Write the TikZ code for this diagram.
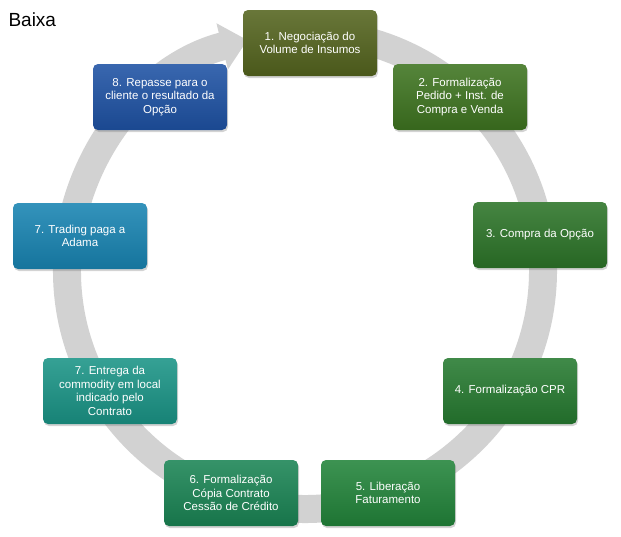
\documentclass[tikz,border=0pt]{standalone}
\usepackage{fontspec}
\setmainfont{Liberation Sans}
\usetikzlibrary{arrows.meta,shadows}

\definecolor{anelcinza}{RGB}{210,210,210}
\definecolor{cor1}{RGB}{84,100,30}
\definecolor{cor2}{RGB}{62,116,32}
\definecolor{cor3}{RGB}{44,116,40}
\definecolor{cor4}{RGB}{38,122,48}
\definecolor{cor5}{RGB}{34,132,58}
\definecolor{cor6}{RGB}{26,132,84}
\definecolor{cor7e}{RGB}{26,148,134}
\definecolor{cor7t}{RGB}{24,132,178}
\definecolor{cor8}{RGB}{30,82,164}

\begin{document}
\begin{tikzpicture}[x=1pt,y=1pt,
    etapa/.style={rectangle, rounded corners=5pt, minimum width=134pt, minimum height=66pt,
        top color=#1!88!white, bottom color=#1!88!black, text=white, align=center,
        font=\fontsize{11.5}{13.5}\selectfont,
        drop shadow={opacity=0.35, shadow xshift=1pt, shadow yshift=-2pt}}]
    \useasboundingbox (0,0) rectangle (621,-536);

    % Grey circular arrow
    \draw[anelcinza, line width=28pt, -{Triangle[length=26pt,width=46pt]}]
        (305,-271) ++(85:238) arc[start angle=85, end angle=-256, radius=238];

    % Title
    \node[anchor=west, font=\fontsize{19}{22}\selectfont] (titulo) at (5,-20) {Baixa};

    % Steps
    \node[etapa=cor1] (passo1) at (310,-43) {1. Negociação do\\Volume de Insumos};
    \node[etapa=cor2] (passo2) at (460,-97) {2. Formalização\\Pedido + Inst. de\\Compra e Venda};
    \node[etapa=cor3] (passo3) at (540,-235) {3. Compra da Opção};
    \node[etapa=cor4] (passo4) at (510,-391) {4. Formalização CPR};
    \node[etapa=cor5] (passo5) at (388,-493) {5. Liberação\\Faturamento};
    \node[etapa=cor6] (passo6) at (231,-493) {6. Formalização\\Cópia Contrato\\Cessão de Crédito};
    \node[etapa=cor7e] (passo7e) at (110,-391) {7. Entrega da\\commodity em local\\indicado pelo\\Contrato};
    \node[etapa=cor7t] (passo7t) at (80,-236) {7. Trading paga a\\Adama};
    \node[etapa=cor8] (passo8) at (160,-97) {8. Repasse para o\\cliente o resultado da\\Opção};
\end{tikzpicture}
\end{document}
